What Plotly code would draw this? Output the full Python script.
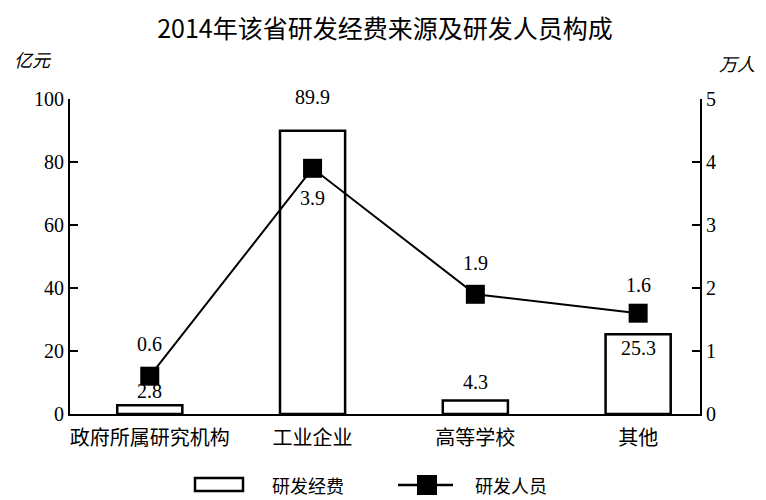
import plotly.graph_objects as go

categories = ["政府所属研究机构", "工业企业", "高等学校", "其他"]
funds = [2.8, 89.9, 4.3, 25.3]          # 研发经费 (亿元)
staff = [0.6, 3.9, 1.9, 1.6]            # 研发人员 (万人)
left_ticks = [0, 20, 40, 60, 80, 100]
right_ticks = [0, 1, 2, 3, 4, 5]
legend_names = ["研发经费", "研发人员"]

fund_label_shift = [14, 34, 18, -14]
staff_label_shift = [32, -30, 31, 28]

serif = "Liberation Serif"
cjk = "Noto Sans CJK SC"

W, H = 766, 500
OFF = 8  # page body margin offset
# plot area in page pixels: x 70..700, y 99..414
ML = 70 - OFF
MT = 99 - OFF
MR = W - (700 - OFF)
MB = H - (414 - OFF)
PW, PH = W - ML - MR, H - MT - MB


def px(x):
    return (x - OFF - ML) / PW


def py(y):
    return (H - MB - (y - OFF)) / PH


fig = go.Figure()
fig.add_trace(go.Bar(
    x=categories, y=funds, name=legend_names[0], width=0.4,
    marker=dict(color="white", line=dict(color="black", width=2.5)),
    yaxis="y", showlegend=False,
))
fig.add_trace(go.Scatter(
    x=categories, y=staff, name=legend_names[1], mode="lines+markers",
    line=dict(color="black", width=2),
    marker=dict(symbol="square", size=19, color="black"),
    yaxis="y2", showlegend=False,
))

annotations = []
for c, v, s in zip(categories, funds, fund_label_shift):
    annotations.append(dict(x=c, y=v, xref="x", yref="y", text=f"{v}", showarrow=False,
                            yshift=s, font=dict(family=serif, size=20, color="black")))
for c, v, s in zip(categories, staff, staff_label_shift):
    annotations.append(dict(x=c, y=v, xref="x", yref="y2", text=f"{v}", showarrow=False,
                            yshift=s, font=dict(family=serif, size=20, color="black")))
annotations.append(dict(x=px(33), y=py(59), xref="paper", yref="paper",
                        xanchor="center", yanchor="middle",
                        text="亿元", showarrow=False,
                        font=dict(family=cjk, size=18, color="black", style="italic")))
annotations.append(dict(x=px(737), y=py(63), xref="paper", yref="paper",
                        xanchor="center", yanchor="middle",
                        text="万人", showarrow=False,
                        font=dict(family=cjk, size=18, color="black", style="italic")))
# legend text
annotations.append(dict(x=px(270), y=py(485), xref="paper", yref="paper",
                        xanchor="left", yanchor="middle",
                        text=legend_names[0], showarrow=False,
                        font=dict(family=cjk, size=18, color="black")))
annotations.append(dict(x=px(473), y=py(485), xref="paper", yref="paper",
                        xanchor="left", yanchor="middle",
                        text=legend_names[1], showarrow=False,
                        font=dict(family=cjk, size=18, color="black")))

shapes = [
    dict(type="rect", xref="paper", yref="paper", x0=px(195), x1=px(243), y0=py(491), y1=py(478),
         line=dict(color="black", width=2.5), fillcolor="white"),
    dict(type="line", xref="paper", yref="paper", x0=px(398), x1=px(453), y0=py(485), y1=py(485),
         line=dict(color="black", width=2.5)),
    dict(type="rect", xref="paper", yref="paper", x0=px(417), x1=px(437), y0=py(495), y1=py(475),
         line=dict(color="black", width=0), fillcolor="black"),
]

fig.update_layout(
    width=W, height=H,
    margin=dict(l=ML, r=MR, t=MT, b=MB),
    paper_bgcolor="white", plot_bgcolor="white",
    title=dict(text="2014年该省研发经费来源及研发人员构成", x=(385 - OFF) / W, xanchor="center",
               y=1 - (29 - OFF) / H, yanchor="middle",
               font=dict(family=cjk, size=25, color="black")),
    xaxis=dict(type="category", range=[-0.49, 3.38], showline=True, linecolor="black",
               linewidth=2, ticks="", showgrid=False, zeroline=False, ticklabelstandoff=5,
               tickfont=dict(family=cjk, size=20, color="black")),
    yaxis=dict(range=[0, 100], tickvals=left_ticks, showline=True, linecolor="black",
               linewidth=2, ticks="inside", ticklen=8, tickwidth=2, tickcolor="black",
               showgrid=False, zeroline=False,
               tickfont=dict(family=serif, size=20, color="black")),
    yaxis2=dict(range=[0, 5], tickvals=right_ticks, overlaying="y", side="right",
                showline=True, linecolor="black", linewidth=2, ticks="inside", ticklen=8,
                tickwidth=2, tickcolor="black", showgrid=False, zeroline=False,
                tickfont=dict(family=serif, size=20, color="black")),
    showlegend=False,
    annotations=annotations,
    shapes=shapes,
)

fig.write_html("out.html")
